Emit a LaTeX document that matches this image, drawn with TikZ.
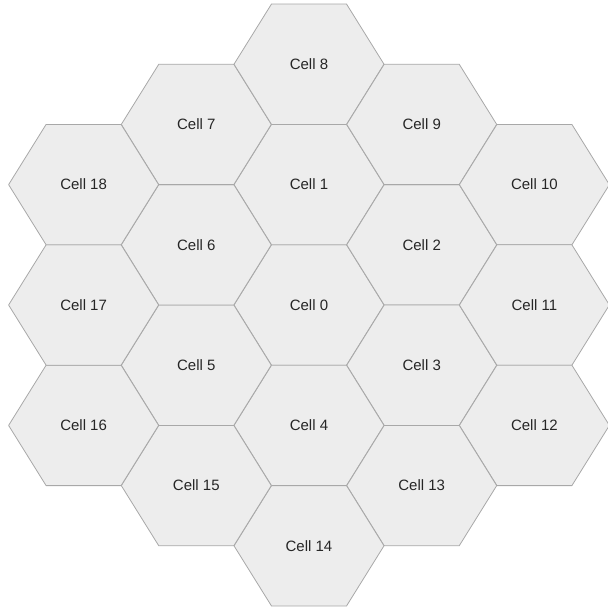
\documentclass[tikz,border=0pt]{standalone}
\usepackage{fontspec}
\setmainfont{Liberation Sans}
\definecolor{CellFill}{HTML}{EDEDED}
\definecolor{CellEdge}{HTML}{A8A8A8}
\usetikzlibrary{calc}

\begin{document}
\begin{tikzpicture}[x=1pt, y=-1pt,
    cell/.style={fill=CellFill, draw=CellEdge, line width=0.8pt, line join=round},
    lbl/.style={font=\fontsize{15}{17}\selectfont, text=black!85}]
  \useasboundingbox (0,0) rectangle (608,611);
  % cells: column / half-row offset from Cell 0, number
  \foreach \c/\r/\n in {0/0/0, 0/-2/1, 1/-1/2, 1/1/3, 0/2/4, -1/1/5, -1/-1/6,
                        -1/-3/7, 0/-4/8, 1/-3/9, 2/-2/10, 2/0/11, 2/2/12,
                        1/3/13, 0/4/14, -1/3/15, -2/2/16, -2/0/17, -2/-2/18} {
    \coordinate (c\n) at ({309+112.7*\c}, {305+60.2*\r});
    \draw[cell, shift={(c\n)}] (-75,0) -- (-37.5,-60.2) -- (37.5,-60.2)
      -- (75,0) -- (37.5,60.2) -- (-37.5,60.2) -- cycle;
    \node[lbl] (cell\n) at (c\n) {Cell \n};
  }
\end{tikzpicture}
\end{document}
